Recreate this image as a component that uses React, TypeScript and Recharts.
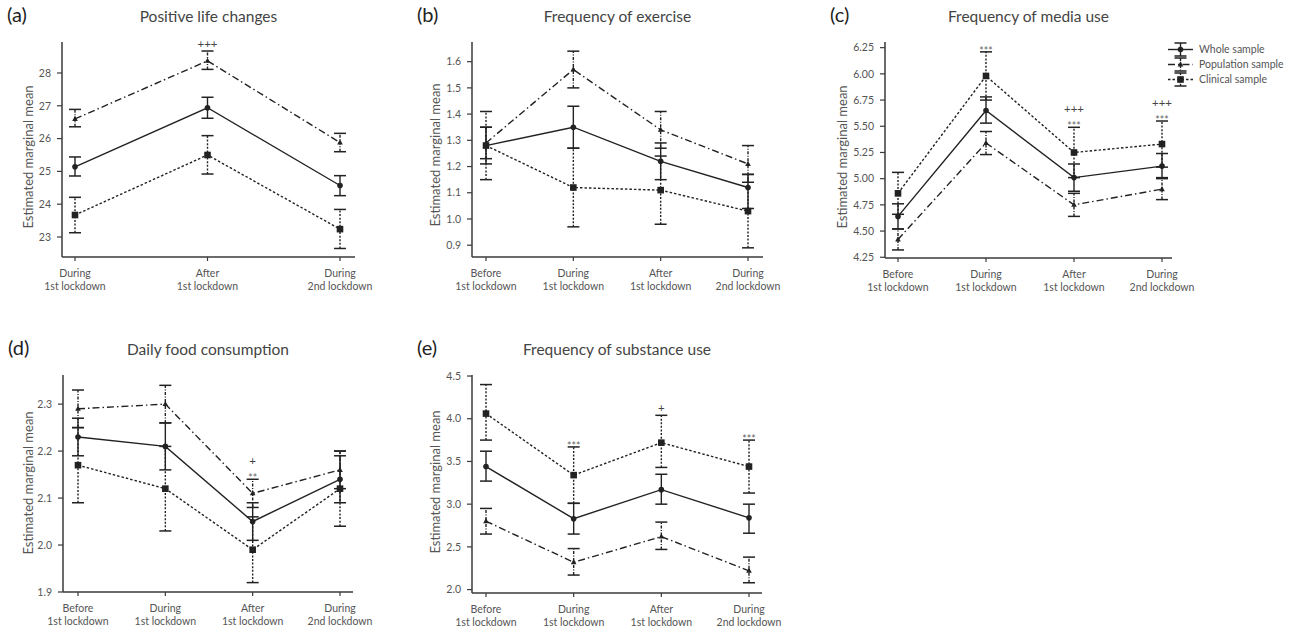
import React from 'react';
import { LineChart, Line, XAxis, YAxis, ErrorBar, LabelList } from 'recharts';

const INK = '#222';
const AXIS = '#3a3a3a';
const TEXT = '#555';
const FONT = 'Lato, "Open Sans", "DejaVu Sans", sans-serif';

const CATS_3 = ['During\n1st lockdown', 'After\n1st lockdown', 'During\n2nd lockdown'];
const CATS_4 = ['Before\n1st lockdown', 'During\n1st lockdown', 'After\n1st lockdown', 'During\n2nd lockdown'];
const SERIES_NAMES = ['Whole sample', 'Population sample', 'Clinical sample'];

// (a) Positive life changes
const A_WHOLE = [25.14, 26.94, 24.57];
const A_WHOLE_LO = [24.86, 26.62, 24.26];
const A_WHOLE_HI = [25.44, 27.26, 24.87];
const A_POP = [26.6, 28.37, 25.88];
const A_POP_LO = [26.36, 28.11, 25.6];
const A_POP_HI = [26.89, 28.67, 26.16];
const A_CLIN = [23.67, 25.5, 23.24];
const A_CLIN_LO = [23.13, 24.92, 22.65];
const A_CLIN_HI = [24.21, 26.09, 23.84];
const A_NOTES = ['', '+++', ''];
const A_TICKS = [23, 24, 25, 26, 27, 28];

// (b) Frequency of exercise
const B_WHOLE = [1.28, 1.35, 1.22, 1.12];
const B_WHOLE_LO = [1.21, 1.27, 1.15, 1.04];
const B_WHOLE_HI = [1.35, 1.43, 1.29, 1.17];
const B_POP = [1.29, 1.57, 1.34, 1.21];
const B_POP_LO = [1.23, 1.5, 1.27, 1.14];
const B_POP_HI = [1.35, 1.64, 1.41, 1.28];
const B_CLIN = [1.28, 1.12, 1.11, 1.03];
const B_CLIN_LO = [1.15, 0.97, 0.98, 0.89];
const B_CLIN_HI = [1.41, 1.27, 1.24, 1.17];
const B_NOTES = ['', '', '', ''];
const B_TICKS = [0.9, 1.0, 1.1, 1.2, 1.3, 1.4, 1.5, 1.6];

// (c) Frequency of media use
const C_WHOLE = [4.64, 5.65, 5.01, 5.12];
const C_WHOLE_LO = [4.52, 5.53, 4.88, 5.0];
const C_WHOLE_HI = [4.76, 5.78, 5.14, 5.24];
const C_POP = [4.42, 5.34, 4.75, 4.9];
const C_POP_LO = [4.32, 5.23, 4.64, 4.8];
const C_POP_HI = [4.52, 5.45, 4.86, 5.01];
const C_CLIN = [4.86, 5.98, 5.25, 5.33];
const C_CLIN_LO = [4.66, 5.75, 5.01, 5.11];
const C_CLIN_HI = [5.06, 6.21, 5.49, 5.55];
const C_NOTES = ['', '***', '+++\n***', '+++\n***'];
const C_TICKS = [4.25, 4.5, 4.75, 5.0, 5.25, 5.5, 5.75, 6.0, 6.25];
const C_TICK_LABELS = ['4.25', '4.50', '4.75', '5.00', '5.25', '5.50', '6.75', '6.00', '6.25'];

// (d) Daily food consumption
const D_WHOLE = [2.23, 2.21, 2.05, 2.14];
const D_WHOLE_LO = [2.19, 2.16, 2.01, 2.09];
const D_WHOLE_HI = [2.27, 2.26, 2.09, 2.19];
const D_POP = [2.29, 2.3, 2.11, 2.16];
const D_POP_LO = [2.25, 2.26, 2.08, 2.12];
const D_POP_HI = [2.33, 2.34, 2.14, 2.2];
const D_CLIN = [2.17, 2.12, 1.99, 2.12];
const D_CLIN_LO = [2.09, 2.03, 1.92, 2.04];
const D_CLIN_HI = [2.25, 2.21, 2.06, 2.2];
const D_NOTES = ['', '', '+\n**', ''];
const D_TICKS = [1.9, 2.0, 2.1, 2.2, 2.3];

// (e) Frequency of substance use
const E_WHOLE = [3.44, 2.83, 3.17, 2.84];
const E_WHOLE_LO = [3.27, 2.65, 3.0, 2.66];
const E_WHOLE_HI = [3.62, 3.01, 3.35, 3.0];
const E_POP = [2.8, 2.32, 2.62, 2.22];
const E_POP_LO = [2.65, 2.17, 2.47, 2.08];
const E_POP_HI = [2.95, 2.48, 2.79, 2.38];
const E_CLIN = [4.06, 3.34, 3.72, 3.44];
const E_CLIN_LO = [3.75, 3.01, 3.43, 3.13];
const E_CLIN_HI = [4.4, 3.67, 4.04, 3.75];
const E_NOTES = ['', '***', '+', '***'];
const E_TICKS = [2.0, 2.5, 3.0, 3.5, 4.0, 4.5];

type Triple = [number[], number[], number[]];

function buildRows(cats: string[], w: Triple, p: Triple, c: Triple, notes: string[]) {
  return cats.map((cat, i) => {
    const row: any = { cat, note: notes[i] };
    const sets: [string, Triple][] = [['w', w], ['p', p], ['c', c]];
    sets.forEach(([k, [m, lo, hi]]) => {
      row[k] = m[i];
      row[k + 'Lo'] = lo[i];
      row[k + 'Hi'] = hi[i];
      row[k + 'Err'] = [m[i] - lo[i], hi[i] - m[i]];
    });
    row.top = Math.max(w[2][i], p[2][i], c[2][i]);
    return row;
  });
}

const STYLES: Record<string, { line?: string; err?: string; marker: string; name: string }> = {
  w: { line: undefined, err: undefined, marker: 'circle', name: SERIES_NAMES[0] },
  p: { line: '7 3 1.5 3', err: '3 1.5 1 1.5', marker: 'tri', name: SERIES_NAMES[1] },
  c: { line: '2.5 2', err: '2 1.6', marker: 'square', name: SERIES_NAMES[2] },
};

function Marker({ kind, cx, cy }: { kind: string; cx: number; cy: number }) {
  if (kind === 'circle') return <circle cx={cx} cy={cy} r={2.8} fill={INK} />;
  if (kind === 'tri')
    return <polygon points={`${cx},${cy - 3.2} ${cx - 2.8},${cy + 2} ${cx + 2.8},${cy + 2}`} fill={INK} />;
  return <rect x={cx - 3.3} y={cy - 3.3} width={6.6} height={6.6} fill={INK} />;
}

const XTick = (props: any) => {
  const { x, y, payload } = props;
  const lines = String(payload.value).split('\n');
  return (
    <text x={x} y={y} textAnchor="middle" fill={TEXT} fontSize={10.5} fontFamily={FONT}>
      {lines.map((l, i) => (
        <tspan key={i} x={x} dy={i === 0 ? 14 : 13}>
          {l}
        </tspan>
      ))}
    </text>
  );
};

const NoteLabel = (props: any) => {
  const { x, y, value } = props;
  if (!value) return null;
  const lines = String(value).split('\n').reverse();
  return (
    <g>
      {lines.map((l, i) => {
        const star = l.indexOf('*') >= 0;
        return (
          <text
            key={i}
            x={x}
            y={star ? y + 3 - i * 11 : y - 3 - i * 11}
            textAnchor="middle"
            fill={star ? '#666' : '#444'}
            fontSize={star ? 10.5 : 11.5}
            fontFamily={FONT}
          >
            {l}
          </text>
        );
      })}
    </g>
  );
};

const LegendIcon = ({ k }: { k: string }) => {
  const s = STYLES[k];
  return (
    <svg width={25} height={15} style={{ overflow: 'visible', flex: 'none' }}>
      <line x1={0} x2={25} y1={7.5} y2={7.5} stroke={INK} strokeWidth={1.4} strokeDasharray={s.line} />
      <line x1={12.5} x2={12.5} y1={1} y2={14} stroke={INK} strokeWidth={1.4} strokeDasharray={s.err} />
      <line x1={6.5} x2={18.5} y1={1} y2={1} stroke={INK} strokeWidth={1.5} />
      <line x1={6.5} x2={18.5} y1={14} y2={14} stroke={INK} strokeWidth={1.5} />
      <Marker kind={s.marker} cx={12.5} cy={7.5} />
    </svg>
  );
};

const LegendBox = () => (
  <div style={{ position: 'absolute', left: 1168, top: 42, fontFamily: FONT, fontSize: 10.5, color: TEXT }}>
    {['w', 'p', 'c'].map((k) => (
      <div key={k} style={{ display: 'flex', alignItems: 'center', height: 15, whiteSpace: 'nowrap' }}>
        <LegendIcon k={k} />
        <span style={{ marginLeft: 6, lineHeight: '13px' }}>{STYLES[k].name}</span>
      </div>
    ))}
  </div>
);

type PanelProps = {
  letter: string;
  title: string;
  rows: any[];
  domain: [number, number];
  ticks: number[];
  fmt: (v: number, i: number) => string;
  box: { l: number; t: number; r: number; b: number };
  pad: [number, number];
  ylabX: number;
  ylabY: number;
  rightMargin?: number;
};

function Panel({ letter, title, rows, domain, ticks, fmt, box, pad, ylabX, ylabY, rightMargin = 45 }: PanelProps) {
  const YW = 60;
  const TOPM = 30;
  const XH = 45;
  const chartLeft = box.l - YW;
  const chartTop = box.t - TOPM;
  const width = box.r - chartLeft + rightMargin;
  const height = box.b - chartTop + XH;
  const midX = (box.l + box.r) / 2;
  const titleY = box.t - 25;
  return (
    <>
      <div
        style={{
          position: 'absolute',
          left: box.l - 55,
          top: titleY - 15,
          fontFamily: FONT,
          fontSize: 20,
          color: INK,
          lineHeight: '24px',
        }}
      >
        ({letter})
      </div>
      <div
        style={{
          position: 'absolute',
          left: midX - 150,
          width: 300,
          top: titleY - 11,
          textAlign: 'center',
          fontFamily: FONT,
          fontSize: 15.5,
          color: '#444',
          lineHeight: '20px',
        }}
      >
        {title}
      </div>
      <div
        style={{
          position: 'absolute',
          left: ylabX - 100,
          top: ylabY - 8,
          width: 200,
          textAlign: 'center',
          transform: 'rotate(-90deg)',
          fontFamily: FONT,
          fontSize: 13,
          color: TEXT,
          lineHeight: '16px',
        }}
      >
        Estimated marginal mean
      </div>
      <div style={{ position: 'absolute', left: chartLeft, top: chartTop }}>
        <LineChart width={width} height={height} data={rows} margin={{ top: TOPM, right: rightMargin, bottom: 0, left: 0 }}>
          <XAxis
            dataKey="cat"
            type="category"
            interval={0}
            padding={{ left: pad[0], right: pad[1] }}
            height={XH}
            tick={<XTick />}
            tickSize={4}
            axisLine={{ stroke: AXIS, strokeWidth: 1.5 }}
            tickLine={{ stroke: AXIS, strokeWidth: 1.2 }}
          />
          <YAxis
            type="number"
            width={YW}
            domain={domain}
            ticks={ticks}
            interval={0}
            tickFormatter={fmt}
            tickSize={5}
            tickMargin={6}
            tick={{ fill: TEXT, fontSize: 10.5, fontFamily: FONT }}
            axisLine={{ stroke: AXIS, strokeWidth: 1.5 }}
            tickLine={{ stroke: AXIS, strokeWidth: 1.2 }}
          />
          {['w', 'p', 'c'].map((k) => (
            <Line
              key={k}
              dataKey={k}
              name={STYLES[k].name}
              stroke={INK}
              strokeWidth={1.4}
              strokeDasharray={STYLES[k].line}
              isAnimationActive={false}
              activeDot={false}
              dot={(d: any) => <Marker key={`${k}m${d.index}`} kind={STYLES[k].marker} cx={d.cx} cy={d.cy} />}
            >
              <ErrorBar
                dataKey={k + 'Err'}
                direction="y"
                width={0}
                stroke={INK}
                strokeWidth={1.4}
                strokeDasharray={STYLES[k].err}
                isAnimationActive={false}
              />
            </Line>
          ))}
          {['w', 'p', 'c'].flatMap((k) =>
            ['Lo', 'Hi'].map((e) => (
              <Line
                key={k + e}
                dataKey={k + e}
                stroke="transparent"
                legendType="none"
                isAnimationActive={false}
                activeDot={false}
                dot={(d: any) => (
                  <line
                    key={`${k}${e}${d.index}`}
                    x1={d.cx - 6}
                    x2={d.cx + 6}
                    y1={d.cy}
                    y2={d.cy}
                    stroke={INK}
                    strokeWidth={1.5}
                  />
                )}
              />
            ))
          )}
          <Line dataKey="top" stroke="transparent" legendType="none" dot={false} activeDot={false} isAnimationActive={false}>
            <LabelList dataKey="note" content={<NoteLabel />} />
          </Line>
        </LineChart>
      </div>
    </>
  );
}

const f0 = (v: number) => String(Math.round(v));
const f1 = (v: number) => v.toFixed(1);
const fC = (_v: number, i: number) => C_TICK_LABELS[i];

export default function App() {
  const aRows = buildRows(CATS_3, [A_WHOLE, A_WHOLE_LO, A_WHOLE_HI], [A_POP, A_POP_LO, A_POP_HI], [A_CLIN, A_CLIN_LO, A_CLIN_HI], A_NOTES);
  const bRows = buildRows(CATS_4, [B_WHOLE, B_WHOLE_LO, B_WHOLE_HI], [B_POP, B_POP_LO, B_POP_HI], [B_CLIN, B_CLIN_LO, B_CLIN_HI], B_NOTES);
  const cRows = buildRows(CATS_4, [C_WHOLE, C_WHOLE_LO, C_WHOLE_HI], [C_POP, C_POP_LO, C_POP_HI], [C_CLIN, C_CLIN_LO, C_CLIN_HI], C_NOTES);
  const dRows = buildRows(CATS_4, [D_WHOLE, D_WHOLE_LO, D_WHOLE_HI], [D_POP, D_POP_LO, D_POP_HI], [D_CLIN, D_CLIN_LO, D_CLIN_HI], D_NOTES);
  const eRows = buildRows(CATS_4, [E_WHOLE, E_WHOLE_LO, E_WHOLE_HI], [E_POP, E_POP_LO, E_POP_HI], [E_CLIN, E_CLIN_LO, E_CLIN_HI], E_NOTES);
  return (
    <div style={{ position: 'absolute', left: 0, top: 0, width: 1295, height: 630, background: '#fff' }}>
      <Panel letter="a" title="Positive life changes" rows={aRows} domain={[22.39, 28.945]} ticks={A_TICKS} fmt={f0}
        box={{ l: 62, t: 42, r: 355, b: 257 }} pad={[13, 15]} ylabX={28} ylabY={157} />
      <Panel letter="b" title="Frequency of exercise" rows={bRows} domain={[0.855, 1.675]} ticks={B_TICKS} fmt={f1}
        box={{ l: 472, t: 42, r: 763, b: 257 }} pad={[14, 15]} ylabX={435} ylabY={155} />
      <Panel letter="c" title="Frequency of media use" rows={cRows} domain={[4.243, 6.304]} ticks={C_TICKS} fmt={fC}
        box={{ l: 885, t: 42, r: 1172, b: 258 }} pad={[13, 10]} ylabX={842} ylabY={157} rightMargin={40} />
      <Panel letter="d" title="Daily food consumption" rows={dRows} domain={[1.9, 2.362]} ticks={D_TICKS} fmt={f1}
        box={{ l: 63, t: 375, r: 353, b: 592 }} pad={[15, 13]} ylabX={28} ylabY={483} />
      <Panel letter="e" title="Frequency of substance use" rows={eRows} domain={[1.96, 4.512]} ticks={E_TICKS} fmt={f1}
        box={{ l: 472, t: 375, r: 762, b: 593 }} pad={[14, 13]} ylabX={435} ylabY={482} />
      <LegendBox />
    </div>
  );
}
